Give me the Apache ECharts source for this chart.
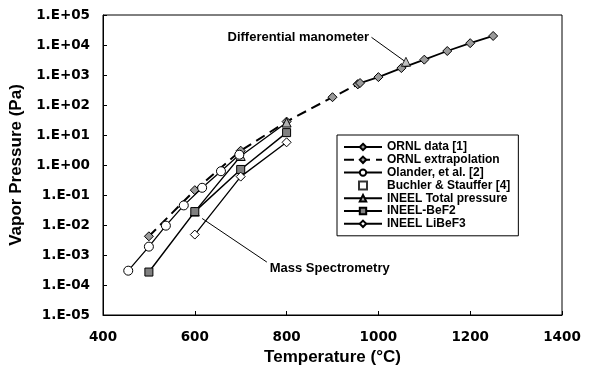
<!DOCTYPE html>
<html>
<head>
<meta charset="utf-8">
<script src="https://cdn.jsdelivr.net/npm/echarts@6/dist/echarts.min.js"></script>
<style>
  html, body { margin: 0; padding: 0; background: #fff; }
  #chart { width: 590px; height: 376px; }
</style>
</head>
<body>
<div id="chart"></div>
<script>
// temperatures in deg C, pressures in Pa
const ornlT = [955, 960, 1000, 1050, 1100, 1150, 1200, 1250]
const ornlP = [490, 540, 850, 1700, 3250, 6300, 11500, 20000]

const extrapT = [500, 600, 700, 800, 900, 955]
const extrapP = [0.0042, 0.145, 3.0, 28, 182, 490]

const olanderT = [455, 500, 537, 576, 616, 657, 697]
const olanderP = [0.0003, 0.0019, 0.0095, 0.045, 0.174, 0.62, 2.2]

const totalT = [600, 700, 800]
const totalP = [0.028, 2.0, 26]
const manometerT = [1060]
const manometerP = [2750]

const bef2T = [500, 600, 700, 800]
const bef2P = [0.00027, 0.028, 0.71, 12]

const libef3T = [600, 700, 800]
const libef3P = [0.0048, 0.41, 5.7]

const xTicks = [400, 600, 800, 1000, 1200, 1400]

const zip = (xs, ys) => xs.map((x, i) => [x, ys[i]])

const chart = echarts.init(document.getElementById('chart'))

const lbl = { fontFamily: 'DejaVu Sans', fontWeight: 'bold', fontSize: 13.5, color: '#000' }
const titleFont = { fontFamily: 'Liberation Sans', fontWeight: 'bold', fontSize: 17, color: '#000' }
const noteFont = { fontFamily: 'Liberation Sans', fontWeight: 'bold', fontSize: 13, color: '#000' }

function yFmt (v) {
  const e = Math.round(Math.log10(v))
  const s = e < 0 ? '-' : '+'
  return '1.E' + s + String(Math.abs(e)).padStart(2, '0')
}

// small square centred in the wide legend slot
const squareIcon = 'path://M0,0M38,8M15,0h8v8h-8z'

chart.setOption({
  animation: false,
  backgroundColor: '#fff',
  grid: { left: 103, right: 28, top: 15, bottom: 61, show: true, borderColor: '#000', borderWidth: 1 },
  legend: {
    orient: 'vertical',
    left: 337,
    top: 135,
    padding: [6, 8, 6, 6],
    itemWidth: 38,
    itemHeight: 8,
    itemGap: 0.8,
    borderColor: '#000',
    borderWidth: 1,
    backgroundColor: '#fff',
    textStyle: { fontFamily: 'Liberation Sans', fontWeight: 'bold', fontSize: 12, lineHeight: 11, color: '#000' },
    data: ['ORNL data [1]', 'ORNL extrapolation', 'Olander, et al. [2]',
      { name: 'Buchler & Stauffer [4]', icon: squareIcon },
      'INEEL Total pressure', 'INEEL-BeF2', 'INEEL LiBeF3']
  },
  xAxis: {
    type: 'value',
    min: xTicks[0],
    max: xTicks[xTicks.length - 1],
    interval: 200,
    name: 'Temperature (°C)',
    nameLocation: 'middle',
    nameGap: 33,
    nameTextStyle: titleFont,
    axisLine: { lineStyle: { color: '#000', width: 1 } },
    axisTick: { inside: true, length: 4, lineStyle: { color: '#000' } },
    axisLabel: Object.assign({ margin: 15, formatter: v => String(v) }, lbl),
    splitLine: { show: false }
  },
  yAxis: {
    type: 'log',
    logBase: 10,
    min: 1e-5,
    max: 1e5,
    interval: 1,
    name: 'Vapor Pressure (Pa)',
    nameLocation: 'middle',
    nameGap: 69,
    nameTextStyle: titleFont,
    axisLine: { show: true, lineStyle: { color: '#000', width: 1 } },
    axisTick: { inside: true, length: 4, lineStyle: { color: '#000' } },
    axisLabel: Object.assign({ margin: 13, formatter: yFmt }, lbl),
    splitLine: { show: false }
  },
  series: [
    {
      name: 'ORNL data [1]',
      type: 'line',
      data: zip(ornlT, ornlP),
      symbol: 'diamond',
      symbolSize: 9,
      itemStyle: { color: '#9a9a9a', borderColor: '#000', borderWidth: 1 },
      lineStyle: { color: '#000', width: 1.8 },
      z: 5,
      markLine: {
        silent: true,
        symbol: ['none', 'none'],
        label: { show: false },
        lineStyle: { color: '#000', width: 1, type: 'solid' },
        data: [
          [{ coord: [985, 18000] }, { coord: [1057, 2900] }]
        ]
      },
      markPoint: {
        silent: true,
        symbol: 'circle',
        symbolSize: 1,
        itemStyle: { color: 'rgba(0,0,0,0)' },
        data: [
          { coord: [983, 18000], label: Object.assign({ show: true, position: 'left', distance: 1, formatter: 'Differential manometer' }, noteFont) },
          { coord: [760, 0.00036], label: Object.assign({ show: true, position: 'right', distance: 1, formatter: 'Mass Spectrometry' }, noteFont) }
        ]
      }
    },
    {
      name: 'ORNL extrapolation',
      type: 'line',
      data: zip(extrapT, extrapP),
      symbol: 'diamond',
      symbolSize: 9,
      itemStyle: { color: '#9a9a9a', borderColor: '#000', borderWidth: 1 },
      lineStyle: { color: '#000', width: 2, type: [10, 6] },
      z: 4,
      markLine: {
        silent: true,
        symbol: ['none', 'none'],
        label: { show: false },
        lineStyle: { color: '#000', width: 1, type: 'solid' },
        data: [
          [{ coord: [757, 0.00058] }, { coord: [616, 0.0165] }]
        ]
      }
    },
    {
      name: 'Olander, et al. [2]',
      type: 'line',
      data: zip(olanderT, olanderP),
      symbol: 'circle',
      symbolSize: 9,
      itemStyle: { color: '#fff', borderColor: '#000', borderWidth: 1 },
      lineStyle: { color: '#000', width: 1.3 },
      z: 6
    },
    {
      name: 'Buchler & Stauffer [4]',
      type: 'scatter',
      data: [],
      symbol: 'rect',
      symbolSize: 8,
      itemStyle: { color: '#fff', borderColor: '#000', borderWidth: 1 }
    },
    {
      name: 'INEEL Total pressure',
      type: 'line',
      data: zip(totalT, totalP),
      symbol: 'triangle',
      symbolSize: 9,
      itemStyle: { color: '#b0b0b0', borderColor: '#000', borderWidth: 1 },
      lineStyle: { color: '#000', width: 1.3 },
      z: 5
    },
    {
      name: 'INEEL Total pressure',
      type: 'scatter',
      data: zip(manometerT, manometerP),
      symbol: 'triangle',
      symbolSize: 9,
      itemStyle: { color: '#b0b0b0', borderColor: '#000', borderWidth: 1 },
      z: 6
    },
    {
      name: 'INEEL-BeF2',
      type: 'line',
      data: zip(bef2T, bef2P),
      symbol: 'rect',
      symbolSize: 8,
      itemStyle: { color: '#808080', borderColor: '#000', borderWidth: 1 },
      lineStyle: { color: '#000', width: 1.5 },
      z: 5
    },
    {
      name: 'INEEL LiBeF3',
      type: 'line',
      data: zip(libef3T, libef3P),
      symbol: 'diamond',
      symbolSize: 9,
      itemStyle: { color: '#fff', borderColor: '#000', borderWidth: 1 },
      lineStyle: { color: '#000', width: 1.3 },
      z: 5
    }
  ]
})
</script>
</body>
</html>
